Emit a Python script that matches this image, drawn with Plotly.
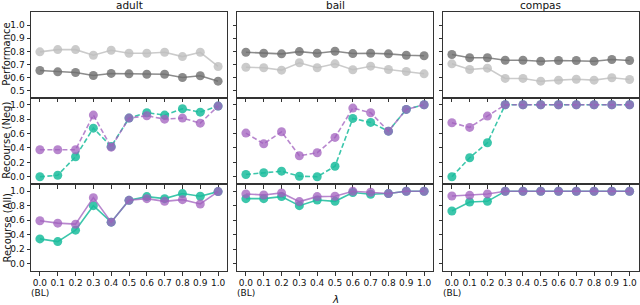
import plotly.graph_objects as go

# ---------------- data ----------------
lambdas = [0.0, 0.1, 0.2, 0.3, 0.4, 0.5, 0.6, 0.7, 0.8, 0.9, 1.0]
tick_labels = ["0.0", "0.1", "0.2", "0.3", "0.4", "0.5", "0.6", "0.7", "0.8", "0.9", "1.0"]
baseline_label = "(BL)"
datasets = ["adult", "bail", "compas"]
row_labels = ["Performance", "Recourse (Neg)", "Recourse (All)"]

# Performance (dark gray / light gray)
adult_perf_dark = [0.655, 0.645, 0.640, 0.617, 0.633, 0.630, 0.627, 0.627, 0.602, 0.615, 0.574]
adult_perf_light = [0.797, 0.814, 0.814, 0.771, 0.809, 0.786, 0.786, 0.794, 0.761, 0.794, 0.686]
bail_perf_dark = [0.794, 0.786, 0.782, 0.799, 0.786, 0.802, 0.784, 0.786, 0.782, 0.771, 0.767]
bail_perf_light = [0.680, 0.676, 0.658, 0.714, 0.676, 0.706, 0.661, 0.688, 0.663, 0.648, 0.630]
compas_perf_dark = [0.777, 0.752, 0.752, 0.733, 0.733, 0.726, 0.731, 0.731, 0.726, 0.739, 0.731]
compas_perf_light = [0.706, 0.663, 0.673, 0.595, 0.595, 0.574, 0.582, 0.589, 0.582, 0.600, 0.587]

# Recourse (Neg)
adult_neg_teal = [0.0, 0.022, 0.278, 0.675, 0.421, 0.814, 0.889, 0.856, 0.944, 0.897, 0.981]
adult_neg_purple = [0.375, 0.375, 0.375, 0.856, 0.411, 0.814, 0.847, 0.800, 0.814, 0.744, 0.981]
bail_neg_teal = [0.032, 0.056, 0.078, 0.008, 0.0, 0.147, 0.810, 0.754, 0.633, 0.935, 1.0]
bail_neg_purple = [0.606, 0.458, 0.625, 0.292, 0.333, 0.546, 0.953, 0.889, 0.633, 0.935, 1.0]
compas_neg_teal = [0.0, 0.264, 0.472, 1.0, 1.0, 1.0, 1.0, 1.0, 1.0, 1.0, 1.0]
compas_neg_purple = [0.750, 0.685, 0.842, 1.0, 1.0, 1.0, 1.0, 1.0, 1.0, 1.0, 1.0]

# Recourse (All)
adult_all_teal = [0.343, 0.306, 0.463, 0.801, 0.574, 0.875, 0.926, 0.898, 0.968, 0.931, 0.995]
adult_all_purple = [0.593, 0.560, 0.546, 0.912, 0.574, 0.875, 0.898, 0.861, 0.884, 0.824, 0.995]
bail_all_teal = [0.898, 0.898, 0.926, 0.801, 0.880, 0.861, 0.982, 0.958, 0.968, 1.0, 1.0]
bail_all_purple = [0.963, 0.949, 0.977, 0.857, 0.926, 0.931, 1.0, 0.986, 0.968, 1.0, 1.0]
compas_all_teal = [0.727, 0.852, 0.861, 1.0, 1.0, 1.0, 1.0, 1.0, 1.0, 1.0, 1.0]
compas_all_purple = [0.935, 0.944, 0.963, 1.0, 1.0, 1.0, 1.0, 1.0, 1.0, 1.0, 1.0]

perf = {
    "adult": (adult_perf_dark, adult_perf_light),
    "bail": (bail_perf_dark, bail_perf_light),
    "compas": (compas_perf_dark, compas_perf_light),
}
neg = {
    "adult": (adult_neg_teal, adult_neg_purple),
    "bail": (bail_neg_teal, bail_neg_purple),
    "compas": (compas_neg_teal, compas_neg_purple),
}
allr = {
    "adult": (adult_all_teal, adult_all_purple),
    "bail": (bail_all_teal, bail_all_purple),
    "compas": (compas_all_teal, compas_all_purple),
}

# ---------------- style ----------------
W, H = 640, 305
DARK = "rgba(110,110,110,0.8)"
LIGHT = "rgba(190,190,190,0.8)"
TEAL = "rgba(26,188,156,0.85)"
PURPLE = "rgba(160,95,190,0.75)"
FONT = "DejaVu Sans"
MS = 9

col_px = [(31, 227), (237, 433), (443, 638.5)]
row_px = [(12, 97.5), (97.5, 184), (184, 271)]
row_ranges = [[0.45, 1.1], [-0.1, 1.1], [-0.1, 1.1]]
row_ticks = [[0.5, 0.6, 0.7, 0.8, 0.9, 1.0], [0.0, 0.2, 0.4, 0.6, 0.8, 1.0], [0.0, 0.2, 0.4, 0.6, 0.8, 1.0]]

fig = go.Figure()
layout = {}


def sfx(idx):
    return str(idx) if idx > 1 else ""


def add(idx, y, color, dash):
    fig.add_trace(go.Scatter(
        x=lambdas, y=y, mode="lines+markers",
        line=dict(color=color, width=1.6, dash=dash),
        marker=dict(color=color, size=MS),
        xaxis="x" + sfx(idx), yaxis="y" + sfx(idx),
        showlegend=False, hoverinfo="skip",
    ))


for r in range(3):
    for c, ds in enumerate(datasets):
        idx = r * 3 + c + 1
        if r == 0:
            d, l = perf[ds]
            add(idx, d, DARK, "solid")
            add(idx, l, LIGHT, "solid")
        elif r == 1:
            t, p = neg[ds]
            add(idx, t, TEAL, "5px,2.5px")
            add(idx, p, PURPLE, "5px,2.5px")
        else:
            t, p = allr[ds]
            add(idx, t, TEAL, "solid")
            add(idx, p, PURPLE, "solid")

        x0, x1 = col_px[c]
        y0, y1 = row_px[r]
        layout["xaxis" + sfx(idx)] = dict(
            domain=[x0 / W, x1 / W], anchor="y" + sfx(idx),
            range=[-0.05, 1.05], tickmode="array", tickvals=lambdas,
            ticktext=tick_labels,
            showticklabels=(r == 2), tickangle=0,
            ticks="outside", ticklen=3.5, tickwidth=0.8, tickcolor="#333",
            showline=True, mirror=True, linecolor="#333", linewidth=1,
            showgrid=False, zeroline=False,
            tickfont=dict(family=FONT, size=9, color="#111"),
        )
        layout["yaxis" + sfx(idx)] = dict(
            domain=[(H - y1) / H, (H - y0) / H], anchor="x" + sfx(idx),
            range=row_ranges[r], tickmode="array", tickvals=row_ticks[r],
            ticktext=["%.1f" % v for v in row_ticks[r]],
            showticklabels=(c == 0),
            ticks="outside", ticklen=3.5, tickwidth=0.8, tickcolor="#333",
            showline=True, mirror=True, linecolor="#333", linewidth=1,
            showgrid=False, zeroline=False,
            tickfont=dict(family=FONT, size=9, color="#111"),
        )

annotations = []
for c, ds in enumerate(datasets):
    x0, x1 = col_px[c]
    annotations.append(dict(
        text=ds, x=(x0 + x1) / 2 / W, y=(H - 5.5) / H, xref="paper", yref="paper",
        xanchor="center", yanchor="middle", showarrow=False,
        font=dict(family=FONT, size=10.5, color="#111"),
    ))
    # second line under the first (baseline) tick
    annotations.append(dict(
        text=baseline_label, x=lambdas[0], xref="x" + sfx(6 + c + 1),
        y=(H - 292.5) / H, yref="paper",
        xanchor="center", yanchor="middle", showarrow=False,
        font=dict(family=FONT, size=9, color="#111"),
    ))
for r, lab in enumerate(row_labels):
    y0, y1 = row_px[r]
    annotations.append(dict(
        text=lab, x=7 / W, y=(H - (y0 + y1) / 2) / H, xref="paper", yref="paper",
        xanchor="center", yanchor="middle", showarrow=False, textangle=-90,
        font=dict(family=FONT, size=10, color="#111"),
    ))
annotations.append(dict(
    text="<i>λ</i>", x=335 / W, y=(H - 299) / H, xref="paper", yref="paper",
    xanchor="center", yanchor="middle", showarrow=False,
    font=dict(family=FONT, size=10.5, color="#111"),
))

fig.update_layout(
    width=W, height=H,
    margin=dict(l=0, r=0, t=0, b=0),
    paper_bgcolor="white", plot_bgcolor="white",
    annotations=annotations,
    **layout,
)

fig.write_html(
    "out.html",
    config={"displayModeBar": False},
    post_script="document.body.style.margin='0';document.body.style.overflow='hidden';",
)
